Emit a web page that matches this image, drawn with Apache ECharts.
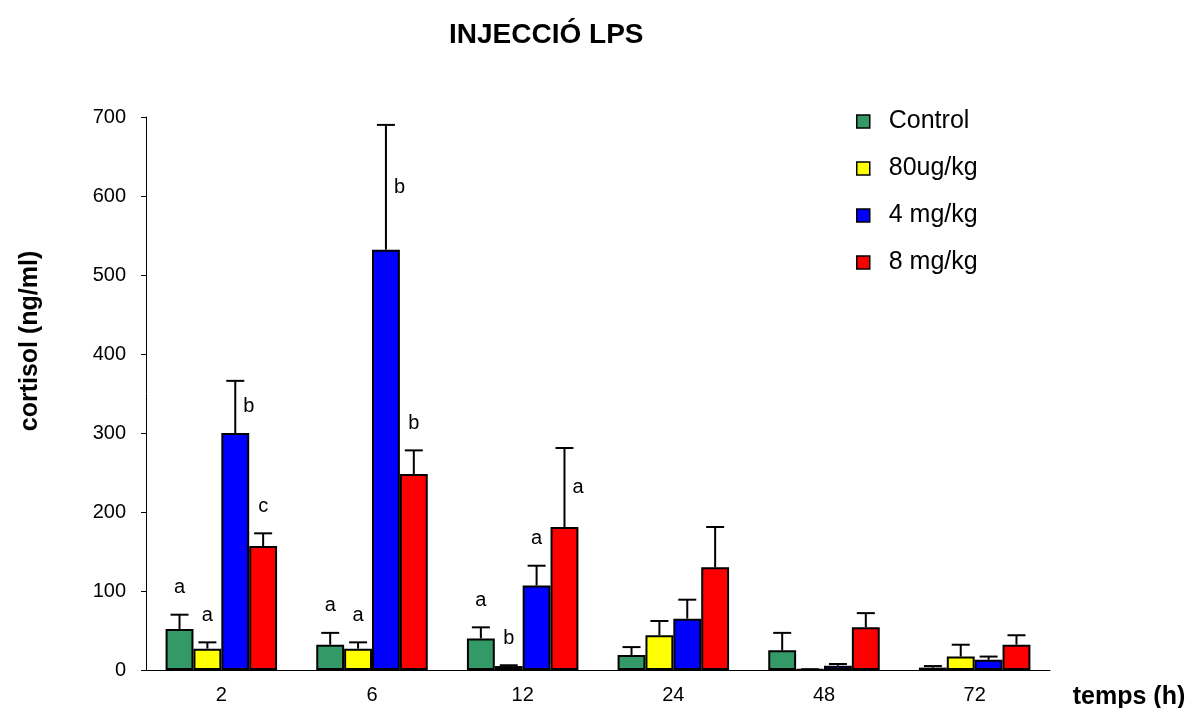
<!DOCTYPE html>
<html>
<head>
<meta charset="utf-8">
<script src="https://cdn.jsdelivr.net/npm/echarts@6/dist/echarts.min.js"></script>
<style>
  html, body { margin: 0; padding: 0; background: #fff; }
  #chart { width: 1187px; height: 708px; }
</style>
</head>
<body>
<div id="chart"></div>
<script>
// temps (h)
const categories = ['2', '6', '12', '24', '48', '72'];
const seriesNames = ['Control', '80ug/kg', '4 mg/kg', '8 mg/kg'];
const seriesColors = ['#339966', '#ffff00', '#0000ff', '#ff0000'];

// mean cortisol (ng/ml)
const controlVals = [52, 32, 40, 19, 25, 3];
const ug80Vals = [27, 27, 5, 44, 0.6, 17];
const mg4Vals = [300, 532, 107, 65, 5.5, 13];
const mg8Vals = [157, 248, 181, 130, 54, 32];

// top of error bar (mean + SE)
const controlErr = [70, 47, 54, 29, 47, 5];
const ug80Err = [35, 35, 6, 62, 1, 32];
const mg4Err = [366, 690, 132, 89, 7.6, 17];
const mg8Err = [173, 278, 281, 181, 72, 44];

// letras de significacio
const controlLetters = ['a', 'a', 'a', '', '', ''];
const ug80Letters = ['a', 'a', 'b', '', '', ''];
const mg4Letters = ['b', 'b', 'a', '', '', ''];
const mg8Letters = ['c', 'b', 'a', '', '', ''];

const allVals = [controlVals, ug80Vals, mg4Vals, mg8Vals];
const allErr = [controlErr, ug80Err, mg4Err, mg8Err];
const allLetters = [controlLetters, ug80Letters, mg4Letters, mg8Letters];

const FONT = 'Liberation Sans, Arial, sans-serif';
const CAT_GAP = 0.26;

function errorSeries(idx) {
  const data = categories.map((c, i) => [i, allVals[idx][i], allErr[idx][i], allLetters[idx][i]]);
  return {
    type: 'custom',
    z: 5,
    silent: true,
    data: data,
    encode: { x: 0, y: [1, 2] },
    renderItem: function (params, api) {
      const ci = api.value(0);
      const base = api.coord([ci, api.value(1)]);
      const top = api.coord([ci, api.value(2)]);
      const cw = api.size([1, 0])[0];
      const bw = cw * (1 - CAT_GAP) / 4;
      const cx = base[0] + (idx - 1.5) * bw;
      const style = { stroke: '#000', lineWidth: 2 };
      const children = [
        { type: 'line', shape: { x1: cx, y1: base[1], x2: cx, y2: top[1] }, style: style },
        { type: 'line', shape: { x1: cx - 9, y1: top[1], x2: cx + 9, y2: top[1] }, style: style }
      ];
      const letter = data[params.dataIndex][3];
      if (letter) {
        const big = api.value(2) - api.value(1) > 50;
        children.push({
          type: 'text',
          style: {
            text: letter,
            x: big ? cx + 8 : cx,
            y: big ? (base[1] + top[1]) / 2 : top[1] - 27,
            align: big ? 'left' : 'center',
            verticalAlign: 'middle',
            font: '20px ' + FONT,
            fill: '#000'
          }
        });
      }
      return { type: 'group', children: children };
    }
  };
}

const barSeries = seriesNames.map((name, idx) => ({
  name: name,
  type: 'bar',
  data: allVals[idx],
  barGap: '0%',
  barCategoryGap: (CAT_GAP * 100) + '%',
  itemStyle: { color: seriesColors[idx], borderColor: '#000', borderWidth: 2 }
}));

const option = {
  backgroundColor: '#fff',
  animation: false,
  title: {
    text: 'INJECCIÓ LPS',
    left: 444,
    top: 16,
    textStyle: { fontFamily: FONT, fontSize: 28, fontWeight: 'bold', color: '#000' }
  },
  legend: {
    data: seriesNames,
    orient: 'vertical',
    left: 851,
    top: 104,
    itemGap: 22,
    itemWidth: 13,
    itemHeight: 13,
    icon: 'rect',
    itemStyle: { borderColor: '#000', borderWidth: 1.5 },
    textStyle: { fontFamily: FONT, fontSize: 25, color: '#000', padding: [0, 0, 0, 14] }
  },
  grid: { left: 146, right: 137, top: 117, bottom: 38 },
  xAxis: {
    type: 'category',
    data: categories,
    axisLine: { lineStyle: { color: '#000', width: 1 } },
    axisTick: { length: 9, lineStyle: { color: '#000' } },
    axisLabel: { margin: 15, fontFamily: FONT, fontSize: 20, color: '#000' }
  },
  yAxis: {
    type: 'value',
    min: 0,
    max: 700,
    interval: 100,
    splitLine: { show: false },
    axisLine: { show: true, lineStyle: { color: '#000', width: 1 } },
    axisTick: { show: true, length: 5, lineStyle: { color: '#000' } },
    axisLabel: { margin: 20, fontFamily: FONT, fontSize: 20, color: '#000' }
  },
  graphic: [
    {
      type: 'text',
      x: 30,
      y: 341,
      rotation: Math.PI / 2,
      style: {
        text: 'cortisol (ng/ml)',
        align: 'center',
        verticalAlign: 'middle',
        font: 'bold 25px ' + FONT,
        fill: '#000'
      }
    },
    {
      type: 'text',
      x: 1129,
      y: 697,
      style: {
        text: 'temps (h)',
        align: 'center',
        verticalAlign: 'middle',
        font: 'bold 25px ' + FONT,
        fill: '#000'
      }
    }
  ],
  series: barSeries.concat(seriesNames.map((n, idx) => errorSeries(idx)))
};

const myChart = echarts.init(document.getElementById('chart'));
myChart.setOption(option);
</script>
</body>
</html>
